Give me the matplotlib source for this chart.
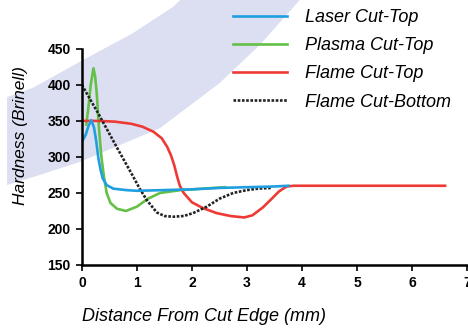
import numpy as np
import matplotlib
matplotlib.use('Agg')
import matplotlib.pyplot as plt
from matplotlib.patches import Polygon

plt.rcParams['font.family'] = ['Liberation Sans', 'DejaVu Sans']

# hardness traverses (distance mm, Brinell)
laser_x = [0.02, 0.07, 0.12, 0.17, 0.22, 0.26, 0.30, 0.34, 0.38, 0.45, 0.57, 0.8, 1.0,
           1.5, 2.0, 2.5, 3.0, 3.5, 3.75]
laser_y = [324, 331, 343, 351, 341, 322, 298, 282, 270, 261, 256, 254, 253,
           254, 255, 257, 258, 259, 260]

plasma_x = [0.08, 0.12, 0.16, 0.21, 0.24, 0.27, 0.31, 0.35, 0.40, 0.45, 0.52, 0.64,
            0.8, 1.0, 1.2, 1.42, 1.8, 2.2, 2.6]
plasma_y = [345, 370, 400, 423, 412, 388, 340, 303, 273, 250, 236, 228,
            225, 231, 242, 250, 254, 256, 258]

flame_x = [0.0, 0.3, 0.6, 0.9, 1.1, 1.3, 1.45, 1.55, 1.62, 1.68, 1.73, 1.78, 1.85,
           2.0, 2.2, 2.45, 2.7, 2.95, 3.1, 3.29, 3.45, 3.58, 3.72, 3.85, 6.6]
flame_y = [350, 350, 349, 346, 342, 335, 326, 314, 302, 288, 273, 260, 250,
           237, 229, 222, 218, 216, 219, 230, 242, 252, 259, 260, 260]

bottom_x = [0.0, 0.3, 0.63, 0.93, 1.05, 1.18, 1.36, 1.5, 1.66, 1.85, 2.02, 2.27,
            2.5, 2.75, 3.0, 3.2, 3.45]
bottom_y = [400, 360, 314, 273, 256, 240, 223, 218, 217, 218, 222, 231,
            242, 250, 254, 256, 257]

labels = ['Laser Cut-Top', 'Plasma Cut-Top', 'Flame Cut-Top', 'Flame Cut-Bottom']

# decorative shaded band behind the chart (data coordinates, extends off axes)
band_upper = [(-1.36, 383), (-0.89, 396), (-0.04, 432), (0.93, 472), (1.65, 508), (2.1, 540)]
band_lower = [(4.4, 560), (3.96, 518), (3.24, 456), (2.51, 403), (1.42, 340),
              (-0.04, 293), (-0.89, 272), (-1.36, 261)]

fig = plt.figure(figsize=(4.68, 3.34), dpi=100)
ax = fig.add_axes([0.175, 0.2066, 0.823, 0.647])

band = Polygon(band_upper + band_lower, closed=True, facecolor='#dcdff1',
               edgecolor='none', clip_on=False, zorder=0)
ax.add_patch(band)

lw = 1.9
l1, = ax.plot(laser_x, laser_y, color='#1f9fe0', lw=lw, zorder=5)
l2, = ax.plot(plasma_x, plasma_y, color='#64c046', lw=lw, zorder=3)
l3, = ax.plot(flame_x, flame_y, color='#ee3a35', lw=lw, zorder=4)
l4, = ax.plot(bottom_x, bottom_y, color='#222222', lw=1.9, ls=(0, (1, 0.6)), zorder=4)

ax.set_xlim(0, 7)
ax.set_ylim(150, 450)
ax.set_xticks(range(0, 8))
ax.set_yticks(range(150, 451, 50))
ax.patch.set_visible(False)
for s in ['top', 'right']:
    ax.spines[s].set_visible(False)
for s in ['left', 'bottom']:
    ax.spines[s].set_linewidth(1.8)
    ax.spines[s].set_zorder(6)
ax.tick_params(length=4, width=1.2, pad=4, labelsize=10)
for t in ax.get_xticklabels() + ax.get_yticklabels():
    t.set_fontweight('bold')

ax.set_xlabel('Distance From Cut Edge (mm)', fontsize=13, style='italic')
ax.set_ylabel('Hardness (Brinell)', fontsize=12.5, style='italic')
ax.xaxis.set_label_coords(0.318, -0.2)
ax.yaxis.set_label_coords(-0.14, 0.6)

fig.legend([l1, l2, l3, l4], labels, loc='upper left', bbox_to_anchor=(0.478, 1.0),
           frameon=False, prop={'style': 'italic', 'size': 13},
           handlelength=3.0, handletextpad=1.0, labelspacing=0.62, borderpad=0)

fig.savefig('out.png', dpi=100)
